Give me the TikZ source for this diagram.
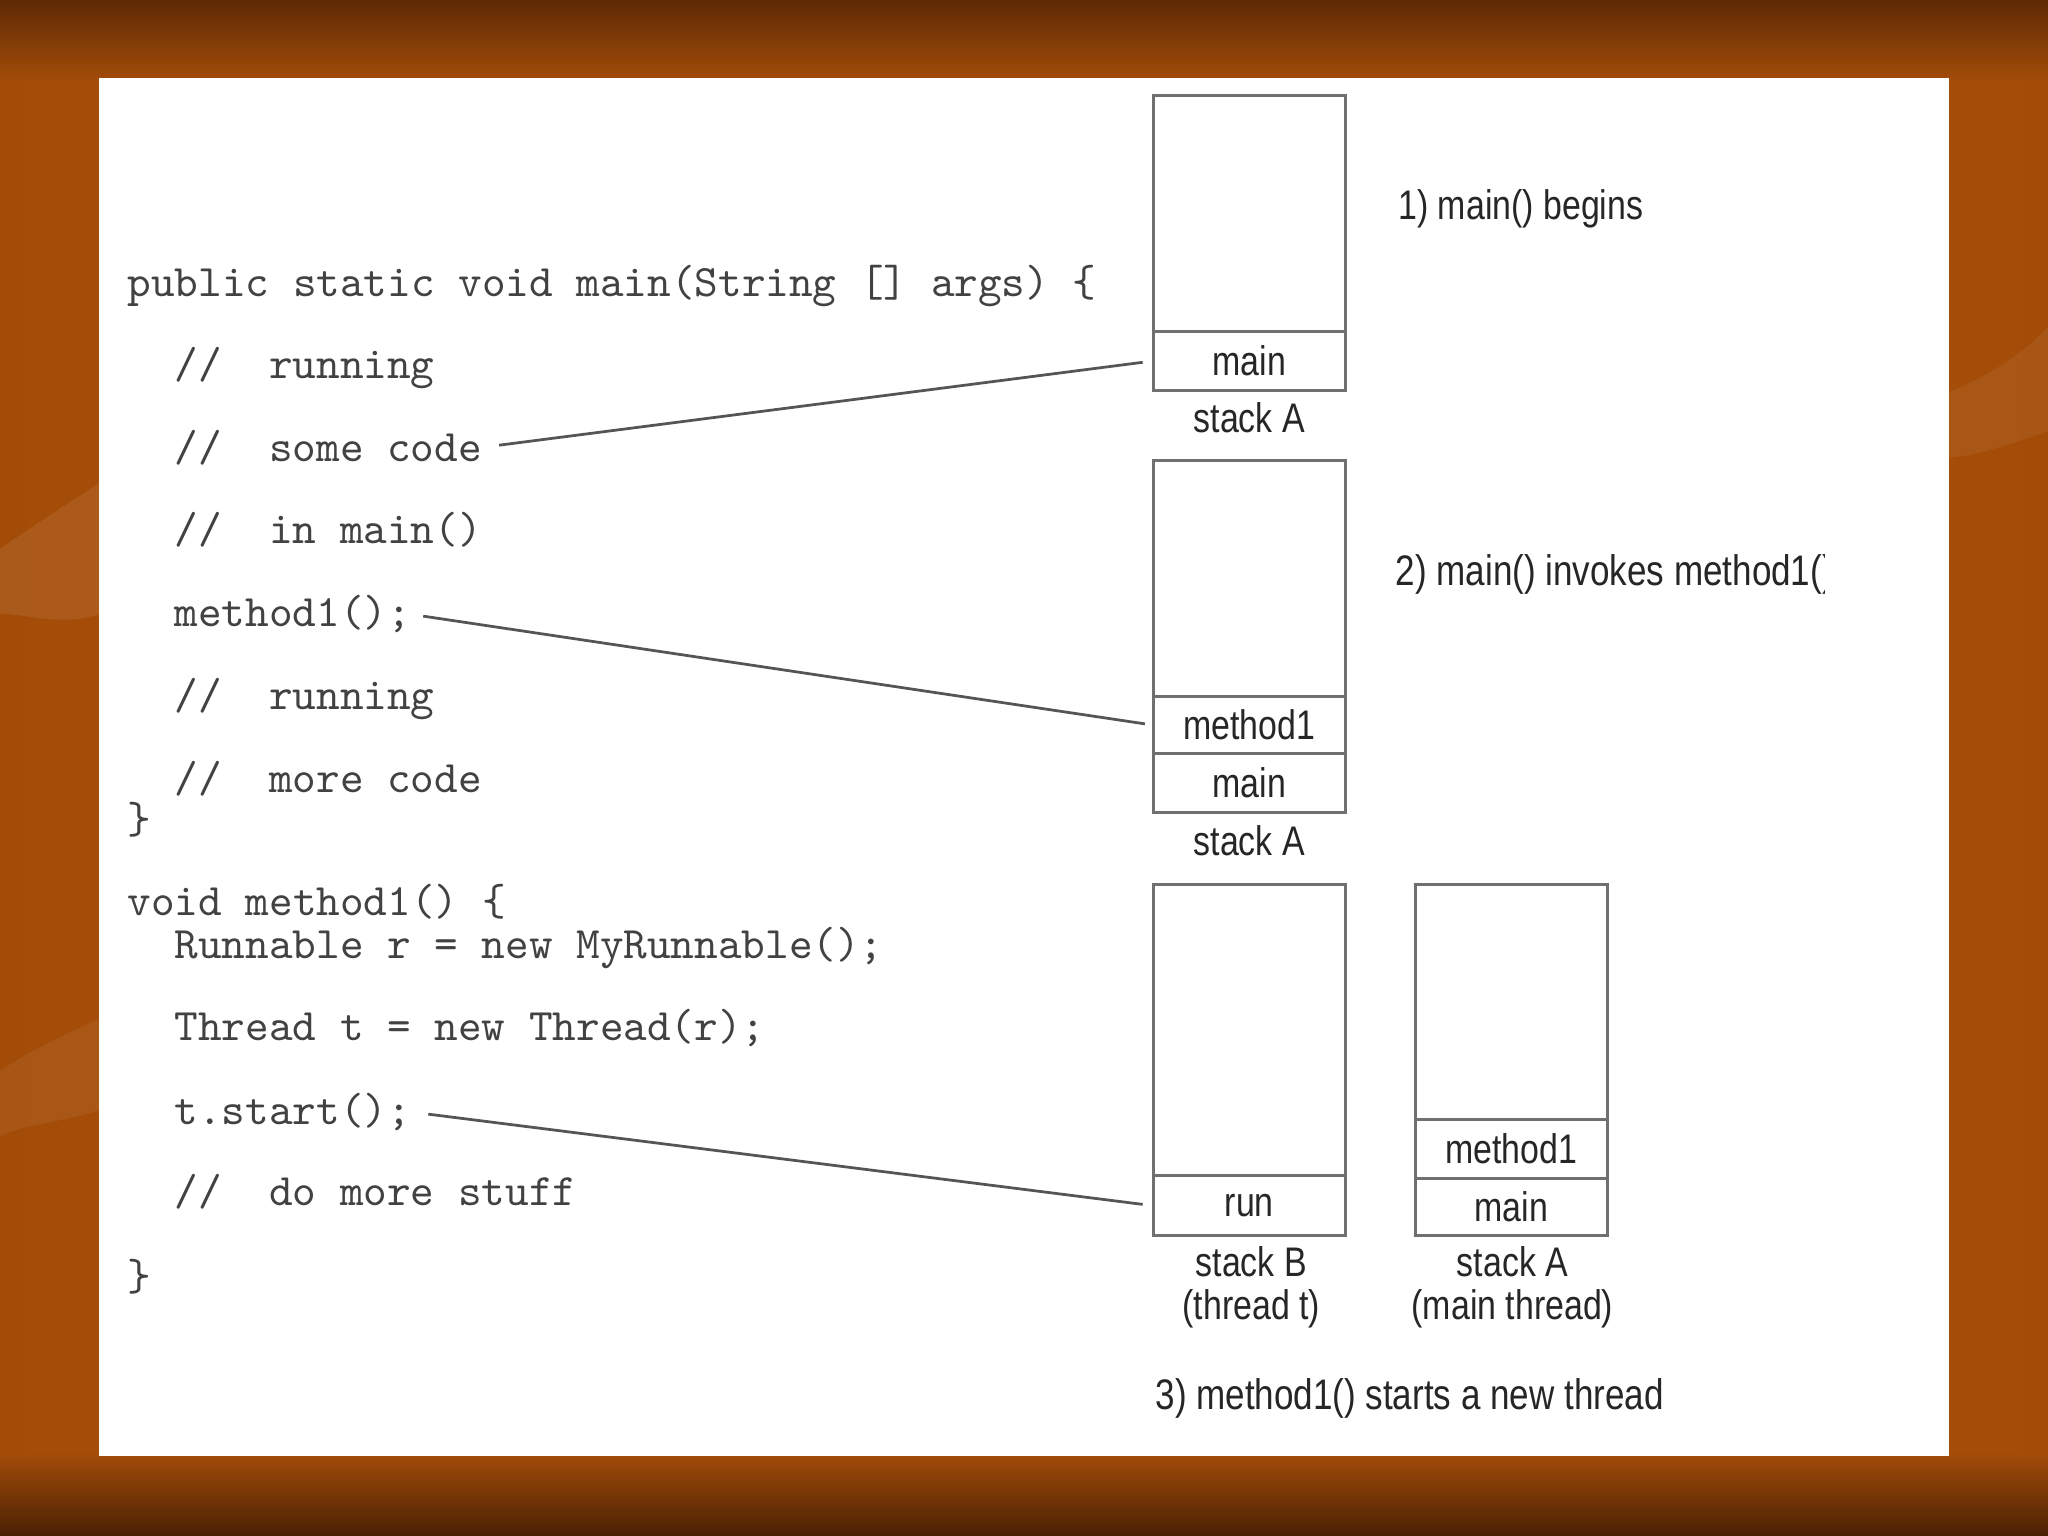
\documentclass[tikz,border=0pt]{standalone}
\usepackage{fontspec}
\newfontfamily\labfont[FakeStretch=0.82]{Liberation Sans}
\definecolor{bgtop}{HTML}{5E2A04}
\definecolor{bgmid}{HTML}{B65C0C}
\definecolor{bgmid2}{HTML}{A34C08}
\definecolor{bgbot}{HTML}{4A2003}
\definecolor{codegray}{HTML}{424242}
\definecolor{linegray}{HTML}{555555}
\definecolor{framegray}{HTML}{707070}
\begin{document}
\begin{tikzpicture}[x=0.01cm,y=-0.01cm,
  code/.style={anchor=base west, inner sep=0pt, text=codegray,
    font=\ttfamily\fontsize{9.8}{10}\selectfont},
  frame/.style={draw=framegray, line width=0.65pt, minimum width=1.47cm, inner sep=0pt,
    text=black!85, font=\labfont\fontsize{9}{10}\selectfont},
  lab/.style={inner sep=0pt, text=black!85, align=center,
    font=\labfont\fontsize{9}{9.4}\selectfont},
  conn/.style={draw=linegray, line width=0.6pt}]
\useasboundingbox (0,0) rectangle (1568,1176);
% background
\fill[bgmid] (0,0) rectangle (1568,1176);
\shade[left color=bgmid2, right color=bgmid] (0,0) rectangle (784,1176);
\shade[left color=bgmid, right color=bgmid2] (784,0) rectangle (1568,1176);
\shade[top color=bgtop, bottom color=bgmid2] (0,0) rectangle (1568,62);
\shade[top color=bgmid2, bottom color=bgbot] (0,1113) rectangle (1568,1176);
\fill[white, opacity=0.08] (0,420) .. controls (30,400) and (60,380) .. (76,370) -- (76,470) .. controls (50,480) and (20,470) .. (0,470) -- cycle;
\fill[white, opacity=0.06] (1492,300) .. controls (1520,290) and (1550,270) .. (1568,250) -- (1568,330) .. controls (1540,340) and (1510,350) .. (1492,350) -- cycle;
\fill[white, opacity=0.06] (0,820) .. controls (30,800) and (55,790) .. (76,780) -- (76,850) .. controls (45,860) and (20,860) .. (0,870) -- cycle;
% panel
\fill[white] (76,60) rectangle (1492,1115);

% code
\node[code] (l1) at (97,227) {public static void main(String [] args) \{};
\node[code] (l2) at (133,290) {//~~running};
\node[code] (l3) at (133,353) {//~~some code};
\node[code] (l4) at (133,416) {//~~in main()};
\node[code] (l5) at (133,480) {method1();};
\node[code] (l6) at (133,543) {//~~running};
\node[code] (l7) at (133,607) {//~~more code};
\node[code] (l8) at (97,638) {\}};
\node[code] (l9) at (97,701) {void method1() \{};
\node[code] (l10) at (133,734) {Runnable r = new MyRunnable();};
\node[code] (l11) at (133,797) {Thread t = new Thread(r);};
\node[code] (l12) at (133,861) {t.start();};
\node[code] (l13) at (133,923) {//~~do more stuff};
\node[code] (l14) at (97,988) {\}};

% stack 1
\node[frame, minimum height=1.81cm] (s1top) at (956.5,163.5) {};
\node[frame, minimum height=0.45cm] (s1main) at (956.5,276.5) {main};
\node[lab] (s1lab) at (956.5,320) {stack A};
\node[lab, anchor=west] (t1) at (1070,160) {1) main() begins};

% stack 2
\node[frame, minimum height=1.80cm] (s2top) at (956.5,443) {};
\node[frame, minimum height=0.44cm] (s2m1) at (956.5,555) {method1};
\node[frame, minimum height=0.45cm] (s2main) at (956.5,599.5) {main};
\node[lab] (s2lab) at (956.5,644) {stack A};
\begin{scope}
\clip (1060,400) rectangle (1397,480);
\node[lab, anchor=west, font=\labfont\fontsize{9.3}{10}\selectfont] (t2) at (1068,440) {2) main() invokes method1()};
\end{scope}

% stack 3
\node[frame, minimum height=2.23cm] (s3btop) at (956.5,788.5) {};
\node[frame, minimum height=0.46cm] (s3brun) at (956.5,923) {run};
\node[lab] (s3blab) at (958,985.5) {stack B\\(thread t)};
\node[frame, minimum height=1.80cm] (s3atop) at (1157,767) {};
\node[frame, minimum height=0.45cm] (s3am1) at (1157,879.5) {method1};
\node[frame, minimum height=0.44cm] (s3amain) at (1157,924) {main};
\node[lab] (s3alab) at (1158,985.5) {stack A\\(main thread)};
\node[lab, anchor=west, font=\labfont\fontsize{9.3}{10}\selectfont] (t3) at (884,1071) {3) method1() starts a new thread};

% connectors
\draw[conn, shorten <=3.6pt, shorten >=2pt] (l3.east) -- (s1main.west);
\draw[conn, shorten <=2.5pt, shorten >=1.5pt] (l5.east) -- (s2m1.west);
\draw[conn, shorten <=3.6pt, shorten >=2pt] (l12.east) -- (s3brun.west);
\end{tikzpicture}
\end{document}
